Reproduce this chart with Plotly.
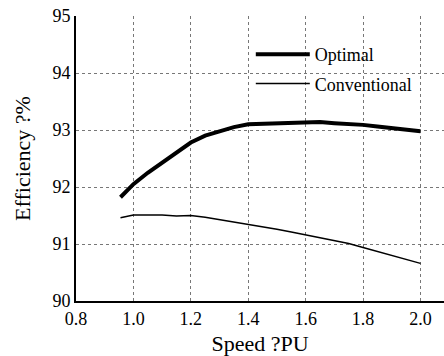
import plotly.graph_objects as go

speed_opt = [0.955, 1.0, 1.05, 1.10, 1.15, 1.20, 1.25, 1.30, 1.35, 1.40, 1.45, 1.50, 1.55, 1.60, 1.65, 1.70, 1.75, 1.80, 1.85, 1.90, 1.95, 2.0]
eff_opt = [91.82, 92.05, 92.25, 92.43, 92.62, 92.78, 92.90, 92.98, 93.05, 93.10, 93.11, 93.12, 93.13, 93.14, 93.14, 93.12, 93.11, 93.09, 93.06, 93.03, 93.00, 92.98]

speed_conv = [0.955, 1.0, 1.05, 1.10, 1.15, 1.20, 1.25, 1.30, 1.35, 1.40, 1.45, 1.50, 1.55, 1.60, 1.65, 1.70, 1.75, 1.80, 1.85, 1.90, 1.95, 2.0]
eff_conv = [91.46, 91.51, 91.51, 91.51, 91.49, 91.50, 91.47, 91.43, 91.39, 91.34, 91.30, 91.26, 91.21, 91.16, 91.12, 91.07, 91.01, 90.94, 90.87, 90.80, 90.73, 90.66]

x_ticks = [0.8, 1.0, 1.2, 1.4, 1.6, 1.8, 2.0]
y_ticks = [90, 91, 92, 93, 94, 95]

font = "Liberation Serif, Times New Roman, serif"

fig = go.Figure()
fig.add_trace(go.Scatter(x=speed_opt, y=eff_opt, mode="lines", name="Optimal",
                         legendgroup="a", line=dict(color="black", width=4)))
fig.add_trace(go.Scatter(x=speed_conv, y=eff_conv, mode="lines", name="Conventional",
                         legendgroup="b", line=dict(color="black", width=1.5)))

fig.update_layout(
    width=444, height=356,
    margin=dict(l=76, r=0, t=16, b=55),
    paper_bgcolor="white", plot_bgcolor="white",
    font=dict(family=font, size=18, color="black"),
    showlegend=True,
    legend=dict(x=0.475, y=0.93, xanchor="left", yanchor="top",
                bgcolor="rgba(0,0,0,0)", borderwidth=0,
                itemwidth=54, traceorder="grouped", tracegroupgap=3,
                font=dict(family=font, size=18, color="black")),
    xaxis=dict(range=[0.8, 2.082], tickvals=x_ticks, ticktext=[f"{v:.1f}" for v in x_ticks],
               showgrid=True, gridcolor="#777", griddash="dot", gridwidth=1,
               showline=True, linecolor="black", linewidth=2, zeroline=False,
               ticks="", title=dict(text="Speed ?PU", standoff=9)),
    yaxis=dict(range=[90, 95], tickvals=y_ticks,
               showgrid=True, gridcolor="#777", griddash="dot", gridwidth=1,
               showline=True, linecolor="black", linewidth=2, zeroline=False,
               ticks="", title=dict(text="Efficiency ?%", standoff=16)),
)

fig.write_html("out.html")
